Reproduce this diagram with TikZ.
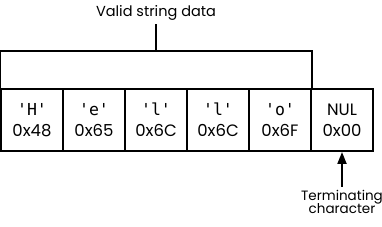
\documentclass[tikz,border=0pt]{standalone}
\usepackage{fontspec}
\setmainfont{Poppins}
\setmonofont{DejaVu Sans Mono}
\usetikzlibrary{positioning,arrows.meta,calc}

\begin{document}
\begin{tikzpicture}[x=1pt,y=1pt,
    cellbox/.style={draw,line width=2pt,minimum width=62pt,minimum height=62pt,
      inner sep=0pt,align=center,font=\fontsize{16.5}{21}\selectfont},
    wire/.style={line width=2pt}]
  \useasboundingbox (0,0) rectangle (382,227);
  % the six byte cells
  \foreach \i/\c/\h in {1/{\texttt{'H'}}/0x48, 2/{\texttt{'e'}}/0x65, 3/{\texttt{'l'}}/0x6C,
      4/{\texttt{'l'}}/0x6C, 5/{\texttt{'o'}}/0x6F, 6/NUL/0x00}{
    \node[cellbox] (c\i) at ({1+62*(\i-0.5)},107) {\c\\\h};
  }
  % bracket over the valid bytes
  \node[font=\fontsize{14.5}{17}\selectfont] (valid) at (156,214) {Valid string data};
  \draw[wire] (c1.north west) -- ++(0,37) coordinate (bl) -- (bl -| c5.north east) -- (c5.north east);
  \draw[wire] (valid.south |- bl) -- (valid.south);
  % terminator
  \node[font=\fontsize{13.5}{15}\selectfont,align=center,anchor=north] (term) at (c6 |- 0,40)
    {Terminating\\[-2pt]character};
  \draw[wire,-{Triangle[length=12pt,width=9pt]}] (term.north) -- (c6.south);
\end{tikzpicture}
\end{document}
